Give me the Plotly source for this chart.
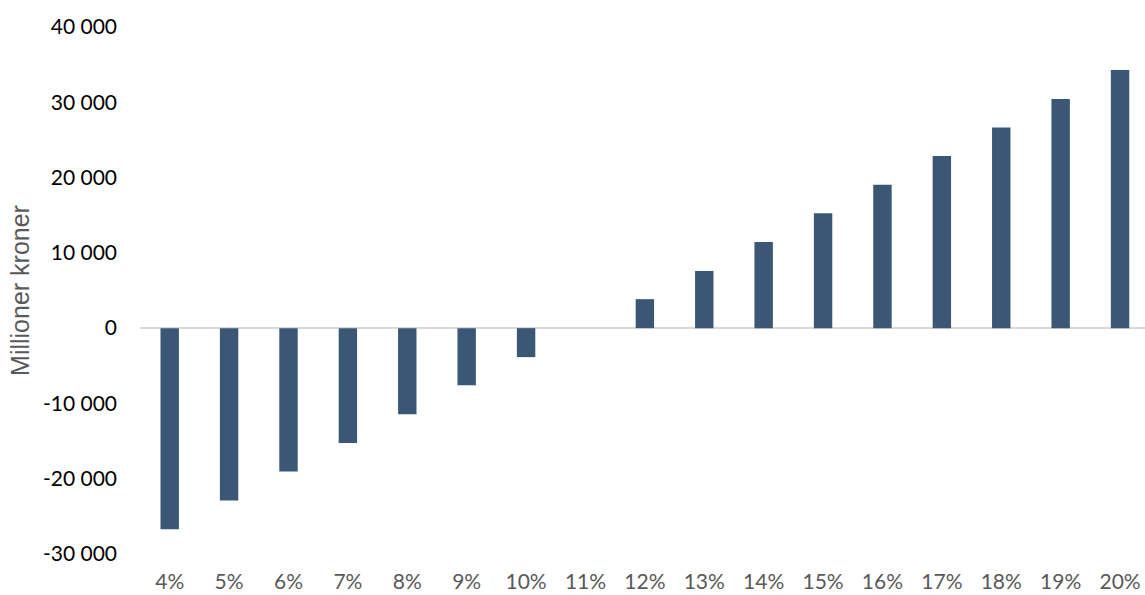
import plotly.graph_objects as go

categories = ["4%", "5%", "6%", "7%", "8%", "9%", "10%", "11%", "12%", "13%",
              "14%", "15%", "16%", "17%", "18%", "19%", "20%"]
values = [-26700, -22900, -19050, -15250, -11450, -7600, -3850, 0, 3850, 7600,
          11450, 15250, 19050, 22850, 26650, 30450, 34300]
y_ticks = [-30000, -20000, -10000, 0, 10000, 20000, 30000, 40000]
y_tick_labels = ["-30 000", "-20 000", "-10 000", "0", "10 000", "20 000", "30 000", "40 000"]

fig = go.Figure(go.Bar(
    x=categories, y=values,
    marker=dict(color="#3a5775", line=dict(width=0)),
))

fig.update_layout(
    width=1145, height=595,
    margin=dict(l=140, r=0, t=27, b=41),
    plot_bgcolor="white", paper_bgcolor="white",
    bargap=0.69,
    showlegend=False,
    font=dict(family="Lato", size=21, color="#000000"),
)
fig.update_xaxes(
    range=[-0.5, 16.42], showgrid=False, showline=False, zeroline=False,
    ticks="", ticklabelstandoff=13,
    tickfont=dict(color="#595959", size=21),
)
fig.update_yaxes(
    range=[-30000, 40000], tickvals=y_ticks, ticktext=y_tick_labels,
    showgrid=False, showline=False, zeroline=True, zerolinecolor="#d9d9d9", zerolinewidth=2,
    ticks="", ticklabelstandoff=22,
    title=dict(text="Millioner kroner",
               font=dict(family="Liberation Sans", color="#595959", size=25), standoff=6),
)

fig.write_html("out.html", config={"displayModeBar": False},
               post_script="document.body.style.margin='0';document.body.style.overflow='hidden';")
